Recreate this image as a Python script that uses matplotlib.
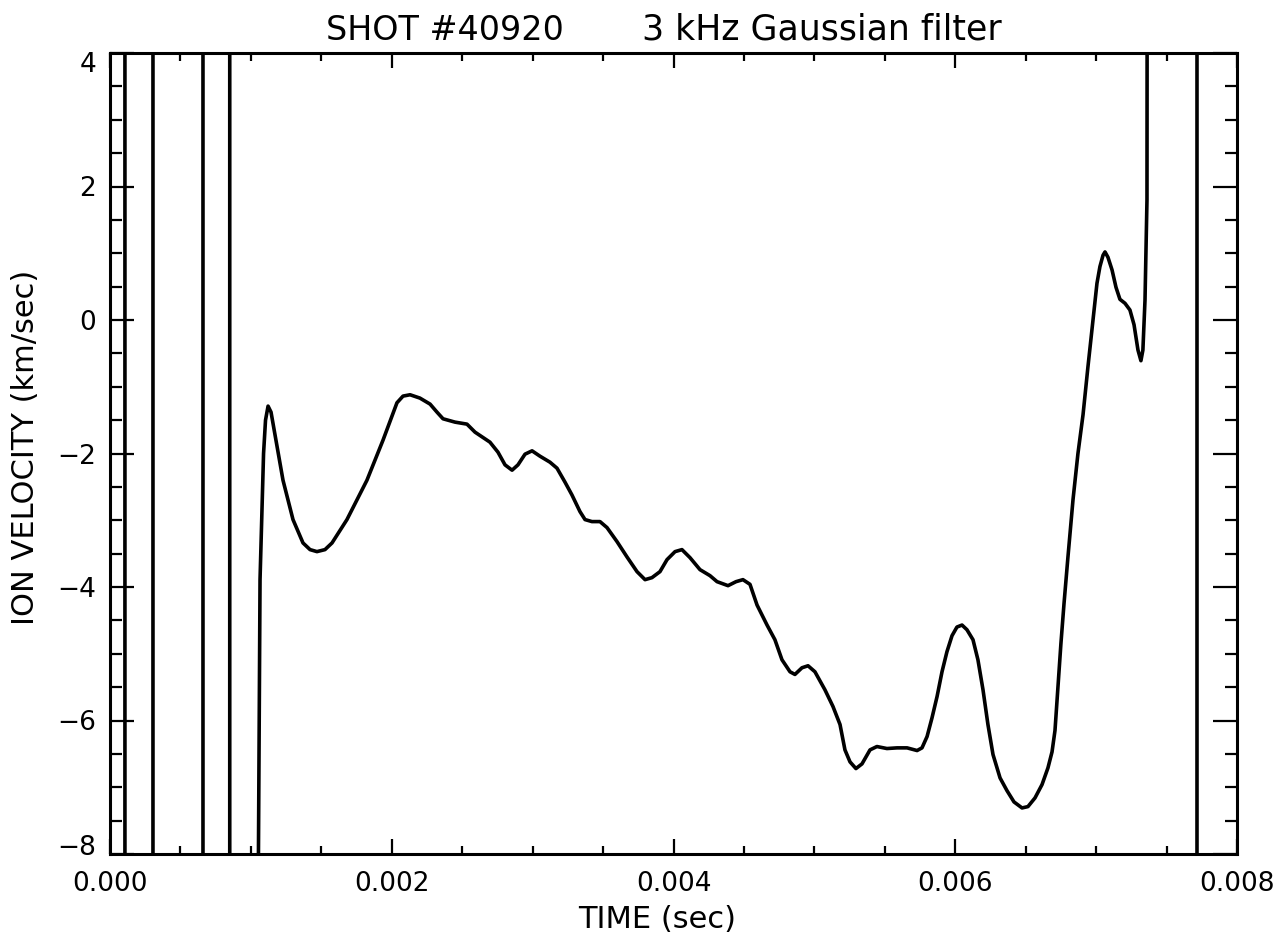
import matplotlib
matplotlib.use("Agg")
import matplotlib.pyplot as plt
import matplotlib.transforms as mtransforms
from matplotlib.ticker import MultipleLocator, FixedLocator, FixedFormatter

plt.rcParams['font.family'] = ['DejaVu Sans']

# ---- data (time in s, ion velocity in km/s) ----
# early noisy region: the signal swings far outside the plotted range
noise_t = [0.0, 0.000106, 0.000106, 0.000305, 0.000305, 0.00066, 0.00066,
           0.00085, 0.00085, 0.001043]
noise_v = [-20, -20, 20, 20, -20, -20, 20, 20, -20, -20]

main_t = [0.001051, 0.001065, 0.001090, 0.001104, 0.001122, 0.001143, 0.001178,
          0.001228, 0.001299, 0.001370, 0.001420, 0.001469, 0.001526, 0.001576,
          0.001682, 0.001824, 0.001938, 0.002037, 0.002080, 0.002130, 0.002200,
          0.002272, 0.002321, 0.002364, 0.002449, 0.002534, 0.002591, 0.002697,
          0.002754, 0.002804, 0.002854, 0.002896, 0.002946, 0.002996, 0.003052,
          0.003123, 0.003173, 0.003230, 0.003279, 0.003336, 0.003372, 0.003421,
          0.003478, 0.003528, 0.003599, 0.003670, 0.003741, 0.003798, 0.003847,
          0.003904, 0.003954, 0.004011, 0.004060, 0.004117, 0.004188, 0.004259,
          0.004309, 0.004387, 0.004444, 0.004493, 0.004543, 0.004593, 0.004664,
          0.004720, 0.004770, 0.004827, 0.004862, 0.004912, 0.004955, 0.005004,
          0.005075, 0.005132, 0.005182, 0.005217, 0.005253, 0.005295, 0.005338,
          0.005395, 0.005444, 0.005515, 0.005587, 0.005658, 0.005729, 0.005764,
          0.005800, 0.005835, 0.005871, 0.005906, 0.005941, 0.005977, 0.006012,
          0.006048, 0.006083, 0.006126, 0.006161, 0.006197, 0.006232, 0.006268,
          0.006318, 0.006367, 0.006417, 0.006474, 0.006516, 0.006566, 0.006616,
          0.006658, 0.006687, 0.006708, 0.006729, 0.006750, 0.006772, 0.006800,
          0.006836, 0.006871, 0.006907, 0.006942, 0.006978, 0.007006, 0.007027,
          0.007049, 0.007063, 0.007084, 0.007113, 0.007141, 0.007169, 0.007205,
          0.007240, 0.007269, 0.007297, 0.007318, 0.007332, 0.007347, 0.007361]
main_v = [-9.0, -3.89, -2.00, -1.50, -1.29, -1.38, -1.80,
          -2.40, -2.99, -3.34, -3.44, -3.47, -3.44, -3.34,
          -2.99, -2.40, -1.80, -1.24, -1.14, -1.12, -1.17,
          -1.26, -1.38, -1.48, -1.53, -1.56, -1.68, -1.83,
          -1.98, -2.17, -2.25, -2.17, -2.01, -1.96, -2.04,
          -2.13, -2.22, -2.43, -2.62, -2.87, -2.99, -3.02,
          -3.02, -3.11, -3.32, -3.55, -3.77, -3.89, -3.86,
          -3.77, -3.59, -3.47, -3.44, -3.56, -3.74, -3.83,
          -3.92, -3.98, -3.92, -3.89, -3.96, -4.27, -4.57,
          -4.79, -5.09, -5.27, -5.31, -5.21, -5.18, -5.27,
          -5.54, -5.79, -6.06, -6.44, -6.62, -6.72, -6.65,
          -6.44, -6.39, -6.42, -6.41, -6.41, -6.45, -6.41,
          -6.24, -5.96, -5.64, -5.27, -4.97, -4.73, -4.60,
          -4.57, -4.64, -4.79, -5.09, -5.54, -6.06, -6.51,
          -6.86, -7.05, -7.22, -7.31, -7.29, -7.16, -6.96,
          -6.71, -6.47, -6.15, -5.50, -4.85, -4.25, -3.55,
          -2.69, -2.00, -1.42, -0.70, 0.00, 0.55, 0.80,
          0.97, 1.02, 0.94, 0.75, 0.49, 0.31, 0.25,
          0.15, -0.07, -0.45, -0.61, -0.45, 0.30, 1.80]

# late noisy region
tail_t = [0.007368, 0.007716, 0.007716, 0.0080]
tail_v = [20, 20, -20, -20]

xtick_values = [0.000, 0.002, 0.004, 0.006, 0.008]
xtick_labels = ['0.000', '0.002', '0.004', '0.006', '0.008']
ytick_values = [-8, -6, -4, -2, 0, 2, 4]
ytick_labels = ['\u22128', '\u22126', '\u22124', '\u22122', '0', '2', '4']

t_all = noise_t + main_t + tail_t
v_all = noise_v + main_v + tail_v

W, H = 1282, 944
fig = plt.figure(figsize=(W / 100, H / 100), dpi=100)
ax = fig.add_axes([110 / W, 1 - 854 / H, (1237 - 110) / W, (854 - 53) / H])

ax.plot(t_all, v_all, color='black', lw=2.6, solid_joinstyle='round',
        solid_capstyle='round')

ax.set_xlim(0, 0.008)
ax.set_ylim(-8, 4)

ax.xaxis.set_major_locator(FixedLocator(xtick_values))
ax.xaxis.set_major_formatter(FixedFormatter(xtick_labels))
ax.xaxis.set_minor_locator(MultipleLocator(0.0005))
ax.yaxis.set_major_locator(FixedLocator(ytick_values))
ax.yaxis.set_major_formatter(FixedFormatter(ytick_labels))
ax.yaxis.set_minor_locator(MultipleLocator(0.5))

for s in ax.spines.values():
    s.set_linewidth(2.2)

ax.tick_params(axis='x', which='major', direction='in', length=11, width=1.6,
               top=True, bottom=True, labelsize=19, pad=12)
ax.tick_params(axis='x', which='minor', direction='in', length=5.5, width=1.6,
               top=True, bottom=True)
ax.tick_params(axis='y', which='major', direction='in', length=17, width=1.6,
               left=True, right=True, labelsize=19, pad=10)
ax.tick_params(axis='y', which='minor', direction='in', length=8.5, width=1.6,
               left=True, right=True)

# IDL-style: end labels pulled inside the axis range
fig.canvas.draw()
ylabels = ax.get_yticklabels()
ylabels[0].set_transform(ylabels[0].get_transform() +
                         mtransforms.ScaledTranslation(0, 9 / 100, fig.dpi_scale_trans))
ylabels[-1].set_transform(ylabels[-1].get_transform() +
                          mtransforms.ScaledTranslation(0, -9 / 100, fig.dpi_scale_trans))

fig.text(445 / W, 1 - 40 / H, 'SHOT #40920', ha='center', va='baseline', fontsize=24)
fig.text(822 / W, 1 - 40 / H, '3 kHz Gaussian filter', ha='center', va='baseline', fontsize=25)
fig.text(657 / W, 1 - 928 / H, 'TIME (sec)', ha='center', va='baseline', fontsize=22)
fig.text(26 / W, 1 - 447 / H, 'ION VELOCITY (km/sec)', ha='center', va='center',
         rotation=90, fontsize=22)

fig.savefig('out.png', dpi=100)
